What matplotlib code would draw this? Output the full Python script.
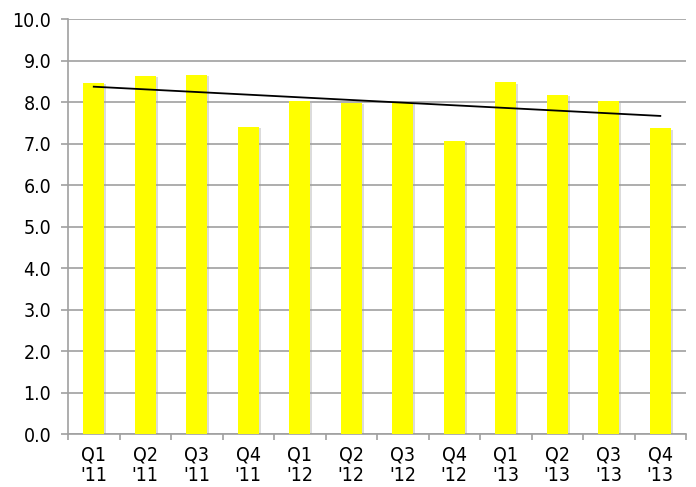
import numpy as np
import matplotlib.pyplot as plt
import matplotlib.patheffects as pe

quarters = ["Q1\n'11", "Q2\n'11", "Q3\n'11", "Q4\n'11",
            "Q1\n'12", "Q2\n'12", "Q3\n'12", "Q4\n'12",
            "Q1\n'13", "Q2\n'13", "Q3\n'13", "Q4\n'13"]
scores = [8.46, 8.63, 8.65, 7.40, 8.02, 7.98, 7.98, 7.06, 8.48, 8.17, 8.02, 7.37]

plt.rcParams["font.family"] = ["DejaVu Sans"]
plt.rcParams["font.stretch"] = "condensed"

fig = plt.figure(figsize=(6.96, 4.87), dpi=100)
ax = fig.add_axes([0.0977, 0.1088, 0.888, 0.852])

x = np.arange(len(scores))
bars = ax.bar(x, scores, width=0.4, color="#ffff00", zorder=3)
for b in bars:
    b.set_path_effects([pe.SimplePatchShadow(offset=(1.5, -1), shadow_rgbFace="#999999", alpha=0.35),
                        pe.Normal()])

# linear trend across the quarters
slope, intercept = np.polyfit(x, scores, 1)
ax.plot(x, slope * x + intercept, color="black", lw=1.3, zorder=4)

ax.set_xlim(-0.5, len(scores) - 0.5)
ax.set_ylim(0, 10)
ax.set_yticks(np.arange(0, 10.5, 1.0))
ax.set_yticklabels([f"{v:.1f}" for v in np.arange(0, 10.5, 1.0)], fontsize=14)
ax.yaxis.grid(True, color="#a0a0a0", lw=1.2, zorder=0)

ax.set_xticks(x)
ax.set_xticklabels(quarters, fontsize=14, linespacing=1.15)
ax.set_xticks(np.arange(-0.5, len(scores)), minor=True)
ax.tick_params(axis="x", which="major", length=0, pad=8)
ax.tick_params(axis="x", which="minor", length=4, color="#a0a0a0", width=1.2)
ax.tick_params(axis="y", length=5, color="#a0a0a0", width=1.2, pad=7)

ax.spines["right"].set_visible(False)
ax.spines["top"].set_visible(False)
for side in ["left", "bottom"]:
    ax.spines[side].set_color("#a0a0a0")
    ax.spines[side].set_linewidth(1.2)

fig.savefig("out.png", dpi=100)
